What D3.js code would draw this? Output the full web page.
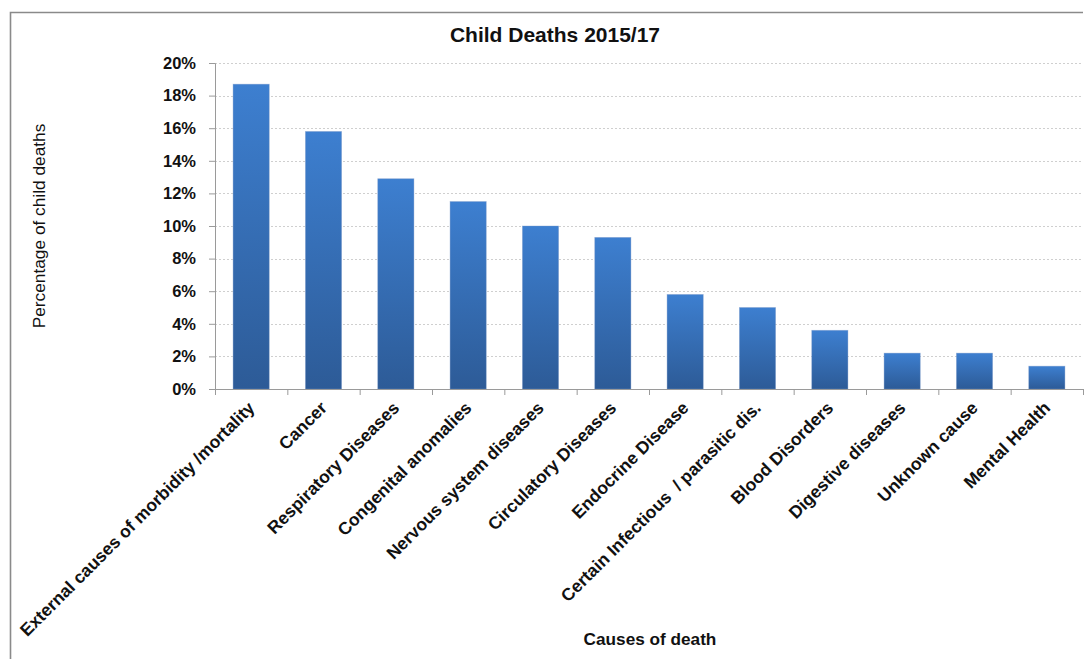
<!DOCTYPE html>
<html>
<head>
<meta charset="utf-8">
<script src="https://cdn.jsdelivr.net/npm/d3@7"></script>
<style>
  html, body { margin: 0; padding: 0; background: #fff; }
  svg { display: block; font-family: "Liberation Sans", Arial, sans-serif; }
</style>
</head>
<body>
<svg id="chart" width="1087" height="659"></svg>
<script>
// Causes of child death, share of all child deaths 2015/17
const categories = [
  "External causes of morbidity /mortality",
  "Cancer",
  "Respiratory Diseases",
  "Congenital anomalies",
  "Nervous system diseases",
  "Circulatory Diseases",
  "Endocrine Disease",
  "Certain Infectious  / parasitic dis.",
  "Blood Disorders",
  "Digestive diseases",
  "Unknown cause",
  "Mental Health"
];
const shares = [0.187, 0.158, 0.129, 0.115, 0.100, 0.093, 0.058, 0.050, 0.036, 0.022, 0.022, 0.014];
const yTicks = [0, 0.02, 0.04, 0.06, 0.08, 0.10, 0.12, 0.14, 0.16, 0.18, 0.20];

const chartTitle = "Child Deaths 2015/17";
const yTitle = "Percentage of child deaths";
const xTitle = "Causes of death";

const svg = d3.select("#chart");
const plot = { left: 215, right: 1083, top: 63, bottom: 389 };

const x = d3.scaleBand()
  .domain(categories)
  .range([plot.left, plot.right])
  .paddingInner(0.5)
  .paddingOuter(0.25);

const y = d3.scaleLinear()
  .domain([0, 0.2])
  .range([plot.bottom, plot.top]);

// bar fill: lighter at the top, deeper blue at the base
const defs = svg.append("defs");
const grad = defs.append("linearGradient")
  .attr("id", "barFill")
  .attr("x1", 0).attr("y1", 0).attr("x2", 0).attr("y2", 1);
grad.append("stop").attr("offset", "0%").attr("stop-color", "#3d7fd0");
grad.append("stop").attr("offset", "100%").attr("stop-color", "#2d5b97");

// frame around the chart
svg.append("path")
  .attr("d", "M10.5,659 V12.5 H1083")
  .attr("fill", "none")
  .attr("stroke", "#8a8a8a")
  .attr("stroke-width", 1.6);

// horizontal gridlines
svg.append("g")
  .selectAll("line")
  .data(yTicks.filter(d => d > 0))
  .join("line")
  .attr("x1", plot.left).attr("x2", plot.right)
  .attr("y1", d => Math.round(y(d)) + 0.5)
  .attr("y2", d => Math.round(y(d)) + 0.5)
  .attr("stroke", "#cfcfcf")
  .attr("stroke-width", 1)
  .attr("stroke-dasharray", "2,2");

// y axis
const yAxis = svg.append("g")
  .attr("transform", `translate(${plot.left},0)`)
  .call(d3.axisLeft(y).tickValues(yTicks).tickFormat(d3.format(".0%")).tickSize(6).tickPadding(13));
yAxis.select(".domain").attr("stroke", "#9a9a9a");
yAxis.selectAll(".tick line").attr("stroke", "#9a9a9a");
yAxis.selectAll(".tick text")
  .attr("font-size", 16.5)
  .attr("font-weight", "bold")
  .attr("fill", "#111");

// bars
svg.append("g")
  .selectAll("rect")
  .data(categories.map((c, i) => ({ c, v: shares[i] })))
  .join("rect")
  .attr("x", d => x(d.c))
  .attr("y", d => y(d.v))
  .attr("width", x.bandwidth())
  .attr("height", d => y(0) - y(d.v))
  .attr("fill", "url(#barFill)")
  .attr("stroke", "rgba(120,150,200,0.45)")
  .attr("stroke-width", 0.8);

// x axis line and category boundary ticks
const step = x.step();
const boundaries = d3.range(categories.length + 1).map(i => plot.left + i * step);
const xAxis = svg.append("g");
xAxis.append("line")
  .attr("x1", plot.left).attr("x2", plot.right)
  .attr("y1", plot.bottom + 0.5).attr("y2", plot.bottom + 0.5)
  .attr("stroke", "#9a9a9a");
xAxis.selectAll("line.tick")
  .data(boundaries)
  .join("line")
  .attr("class", "tick")
  .attr("x1", d => d + 0.5).attr("x2", d => d + 0.5)
  .attr("y1", plot.bottom).attr("y2", plot.bottom + 6)
  .attr("stroke", "#9a9a9a");

// rotated category labels
xAxis.selectAll("text")
  .data(categories)
  .join("text")
  .attr("transform", d => `translate(${x(d) + x.bandwidth() / 2 + 4.5},${plot.bottom + 20}) rotate(-45)`)
  .attr("text-anchor", "end")
  .attr("font-size", 17.5)
  .attr("font-weight", "bold")
  .attr("fill", "#111")
  .style("white-space", "pre")
  .text(d => d);

// titles
svg.append("text")
  .attr("x", 555).attr("y", 42)
  .attr("text-anchor", "middle")
  .attr("font-size", 21)
  .attr("font-weight", "bold")
  .attr("fill", "#111")
  .text(chartTitle);

svg.append("text")
  .attr("transform", "translate(45,226) rotate(-90)")
  .attr("text-anchor", "middle")
  .attr("font-size", 17.3)
  .attr("fill", "#111")
  .text(yTitle);

svg.append("text")
  .attr("x", 650).attr("y", 645)
  .attr("text-anchor", "middle")
  .attr("font-size", 17.2)
  .attr("font-weight", "bold")
  .attr("fill", "#111")
  .text(xTitle);
</script>
</body>
</html>
